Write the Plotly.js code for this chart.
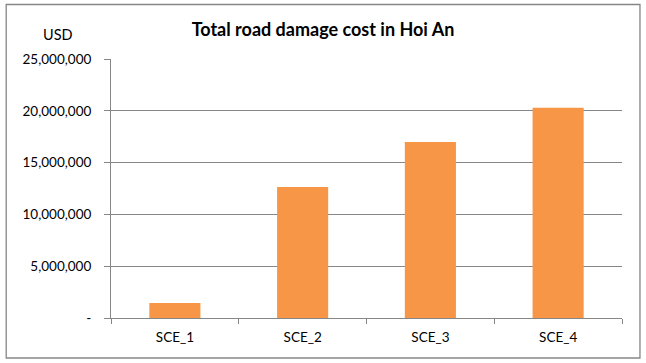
<!DOCTYPE html>
<html>
<head>
<meta charset="utf-8">
<script src="https://cdn.plot.ly/plotly-3.0.1.min.js"></script>
<style>
html,body{margin:0;padding:0;background:#fff;}
#chart{width:646px;height:363px;}
</style>
</head>
<body>
<div id="chart"></div>
<script>
const categories = ["SCE_1", "SCE_2", "SCE_3", "SCE_4"];
const damageCost = [1450000, 12650000, 17000000, 20300000];
const yTickVals = [0, 5000000, 10000000, 15000000, 20000000, 25000000];
const yTickText = ["-", "5,000,000", "10,000,000", "15,000,000", "20,000,000", "25,000,000"];

const FONT = "Lato, 'Open Sans', 'Liberation Sans', sans-serif";
const GRAY = "#868686";

const trace = {
  type: "bar",
  x: categories,
  y: damageCost,
  marker: {color: "#F79646"},
  hoverinfo: "x+y"
};

const layout = {
  width: 646,
  height: 363,
  margin: {l: 110.5, r: 23.5, t: 59, b: 45},
  paper_bgcolor: "#fff",
  plot_bgcolor: "#fff",
  showlegend: false,
  bargap: 0.6,
  font: {family: FONT, size: 13, color: "#000"},
  title: {
    text: "<b>Total road damage cost in Hoi An</b>",
    font: {family: FONT, size: 18, color: "#000"},
    x: 0.5, xref: "container", xanchor: "center",
    y: 30, yref: "container", yanchor: "middle"
  },
  xaxis: {
    type: "category",
    showline: true, linecolor: GRAY, linewidth: 1,
    ticks: "outside", tickson: "boundaries", ticklen: 5, tickcolor: GRAY,
    showgrid: false,
    tickfont: {family: FONT, size: 13.5, color: "#000"},
    ticklabelstandoff: 7,
    fixedrange: true
  },
  yaxis: {
    range: [0, 25000000],
    tickvals: yTickVals,
    ticktext: yTickText,
    showline: true, linecolor: GRAY, linewidth: 1,
    ticks: "outside", ticklen: 6, tickcolor: GRAY,
    showgrid: true, gridcolor: GRAY, gridwidth: 1,
    zeroline: false,
    tickfont: {family: FONT, size: 13.5, color: "#000"},
    ticklabelstandoff: 10,
    fixedrange: true
  },
  annotations: [{
    text: "USD",
    xref: "paper", yref: "paper",
    x: -0.103, y: 1.095,
    xanchor: "center", yanchor: "middle",
    showarrow: false,
    font: {family: FONT, size: 14.5, color: "#000"}
  }],
  shapes: [{
    type: "rect", xref: "paper", yref: "paper",
    x0: (5.5 - 110.5) / 512, x1: (640.5 - 110.5) / 512,
    y0: -(358 - 318) / 259, y1: (318 - 4.5) / 259,
    line: {color: GRAY, width: 1.3}, fillcolor: "rgba(0,0,0,0)", layer: "below"
  }]
};

Plotly.newPlot("chart", [trace], layout, {staticPlot: true, displayModeBar: false});
</script>
</body>
</html>
